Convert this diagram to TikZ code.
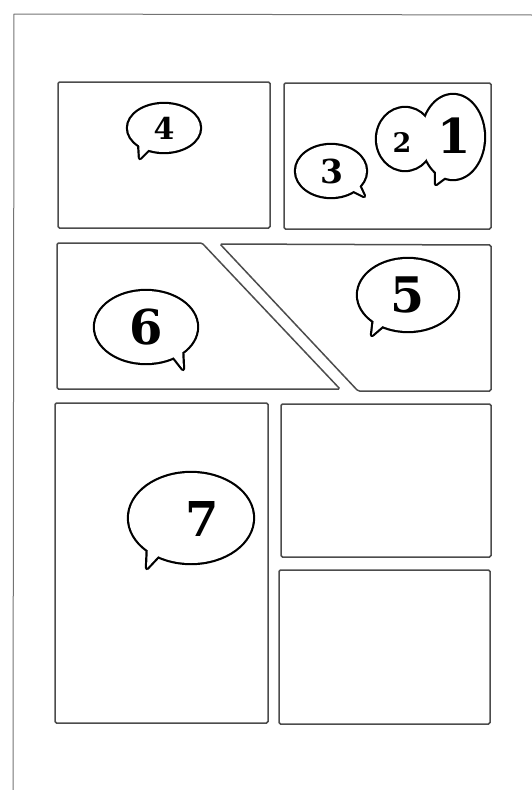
\documentclass[tikz,border=0pt]{standalone}
\usepackage{fontspec}
\usepackage{tikz}
\usetikzlibrary{calc}
\newfontfamily\numfont{DejaVu Serif}

\tikzset{
  panel/.style={draw=black!70, line width=1.5pt, rounded corners=1.5pt},
  edge/.style={draw=black!55, line width=1pt},
  rim/.style={draw, line width=4.4pt, line join=round},
  hollow/.style={fill=white},
  num/.style={inner sep=0pt}
}

\begin{document}
\begin{tikzpicture}[x=1pt, y=-1pt]
    \useasboundingbox (0,0) rectangle (532,790);

    % page edge
    \draw[edge] (13,790) -- (14,14) -- (532,15);

    % top row
    \draw[panel] (58,82) rectangle (270,228);
    \draw[panel] (284,83) rectangle (491,229);

    % middle row, split by a slanted gutter
    \draw[panel] (57,243) -- (202,243) -- (340,389) -- (57,389) -- cycle;
    \draw[panel] (220,244) -- (491,245) -- (491,391) -- (358,391) -- cycle;

    % bottom row
    \draw[panel] (55,403) rectangle (268,723);
    \draw[panel] (281,404) rectangle (491,557);
    \draw[panel] (279,570) rectangle (490,724);

    % balloon centres
    \coordinate (b4) at (164,128);
    \coordinate (b3) at (331,171);
    \coordinate (b2) at (405,139);
    \coordinate (b1) at (453,137);
    \coordinate (b6) at (146,327);
    \coordinate (b5) at (408,295);
    \coordinate (b7) at (191,518);

    % balloon 4
    \path[rim] (b4) ellipse [x radius=36, y radius=24] (139,142) -- (140,158) -- (150,148) -- cycle;
    \path[hollow] (b4) ellipse [x radius=36, y radius=24];
    \path[hollow] (139,142) -- (140,158) -- (150,148) -- cycle;
    \node[num, font=\fontsize{30}{30}\numfont\bfseries] (n4) at (b4) {4};

    % balloon 3
    \path[rim] (b3) ellipse [x radius=35, y radius=26] (357,181) -- (364,196) -- (350,189) -- cycle;
    \path[hollow] (b3) ellipse [x radius=35, y radius=26];
    \path[hollow] (357,181) -- (364,196) -- (350,189) -- cycle;
    \node[num, font=\fontsize{33}{33}\numfont\bfseries] (n3) at ($(b3)+(1,0)$) {3};

    % balloons 2 and 1, joined
    \path[rim] (b2) ellipse [x radius=28, y radius=31] (b1) ellipse [x radius=31, y radius=42]
        (436,170) -- (436,184) -- (448,175) -- cycle;
    \path[hollow] (b2) ellipse [x radius=28, y radius=31];
    \path[hollow] (b1) ellipse [x radius=31, y radius=42];
    \path[hollow] (436,170) -- (436,184) -- (448,175) -- cycle;
    \node[num, font=\fontsize{27}{27}\numfont\bfseries] (n2) at (402,142) {2};
    \node[num, font=\fontsize{48}{48}\numfont\bfseries] (n1) at (454,136) {1};

    % balloon 6
    \path[rim] (b6) ellipse [x radius=51, y radius=36] (172,355) -- (183,369) -- (182,348) -- cycle;
    \path[hollow] (b6) ellipse [x radius=51, y radius=36];
    \path[hollow] (172,355) -- (183,369) -- (182,348) -- cycle;
    \node[num, font=\fontsize{48}{48}\numfont\bfseries] (n6) at (b6) {6};

    % balloon 5
    \path[rim] (b5) ellipse [x radius=50, y radius=36] (374,318) -- (372,335) -- (386,323) -- cycle;
    \path[hollow] (b5) ellipse [x radius=50, y radius=36];
    \path[hollow] (374,318) -- (372,335) -- (386,323) -- cycle;
    \node[num, font=\fontsize{49}{49}\numfont\bfseries] (n5) at (b5) {5};

    % balloon 7
    \path[rim] (b7) ellipse [x radius=62, y radius=45] (148,545) -- (147,568) -- (162,552) -- cycle;
    \path[hollow] (b7) ellipse [x radius=62, y radius=45];
    \path[hollow] (148,545) -- (147,568) -- (162,552) -- cycle;
    \node[num, font=\fontsize{48}{48}\numfont\bfseries] (n7) at ($(b7)+(11,1)$) {7};
\end{tikzpicture}
\end{document}
